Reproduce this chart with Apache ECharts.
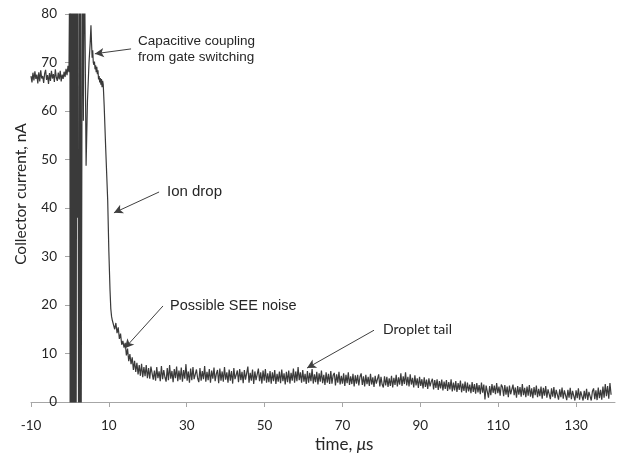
<!DOCTYPE html>
<html>
<head>
<meta charset="utf-8">
<script src="https://cdn.jsdelivr.net/npm/echarts@6/dist/echarts.min.js"></script>
<style>
html,body{margin:0;padding:0;background:#fff;}
#chart{width:623px;height:455px;}
</style>
</head>
<body>
<div id="chart"></div>
<script>
// x tick labels and y range
const xTicks = [-10, 10, 30, 50, 70, 90, 110, 130];
const yTicks = [0, 10, 20, 30, 40, 50, 60, 70, 80];

// pre-trigger baseline, t from -10 step 0.25 us (nA)
const preT0 = -10, preDt = 0.25;
const preI = [67.2,65.9,67.9,66.3,68.2,66.6,67.5,65.7,68.0,66.1,68.4,66.7,67.2,65.8,67.7,68.5,66.4,67.4,65.6,67.8,
              66.2,68.3,66.7,67.6,66.0,68.6,66.9,66.2,67.9,66.5,68.3,66.1,67.5,66.6,68.1,67.0,68.7,67.4,69.3,68.0];

// gate switching ringing, coupling peak and ion drop (time us, current nA)
const earlyT = [0,0.05,0.1,0.15,0.2,0.25,0.3,0.35,0.4,0.45,0.5,0.55,0.6,0.65,0.7,0.75,0.8,0.85,0.9,0.95,
                1.0,1.05,1.1,1.15,1.2,1.25,1.3,1.35,1.4,1.45,1.5,1.55,1.6,
                1.75,1.9,2.05,2.2,2.25,2.3,2.35,2.4,2.45,2.5,2.55,2.6,2.65,2.7,2.75,2.8,2.85,2.9,
                3.2,3.45,3.7,4.15,4.5,4.9,5.2,5.4,5.55,5.7,5.85,6.0,6.15,6.3,6.45,6.6,6.75,6.9,7.05,
                7.2,7.35,7.5,7.65,7.8,7.95,8.1,8.25,8.4,8.55,8.8,9.2,9.7,10.0,10.3,10.5,10.7,10.9];
const earlyI = [95,-3,96,-2,94,-4,97,-3,95,-2,96,-3,94,-4,95,-2,97,-3,96,-2,
                95,-3,94,-4,96,-2,95,-3,97,-2,94,-3,-1,
                92,38,94,-2,32,-1,28,-2,92,-1,30,-2,35,-1,90,-2,31,-1,
                95,58,95,48.7,62,70,74,77.7,74,71,72.5,70,69.5,70.2,68.6,69.4,68.0,69.1,67.6,
                68.4,66.5,67.2,65.9,66.8,65.4,66.6,64.9,66.2,65.5,61,52,41.6,31,23,19.2,17.6,16.8];

// decay tail, t from 11.2 step 0.3 us (nA)
const tailT0 = 11.2, tailDt = 0.3;
const tail1 = [16.6,15.0,16.3,14.2,15.4,13.0,14.1,11.8,12.6,11.2,12.2,9.6,11.0,8.4,9.9,7.8,9.2,6.6,8.5,6.2,
               8.1,5.7,7.6,5.4,7.9,5.1,7.2,5.3,7.6,4.9,7.0,4.8,7.3];
const tail2 = [6.9,4.6,6.5,4.4,7.2,4.9,6.3,4.3,7.4,4.7,6.6,5.1,4.2,7.0,4.5,7.6,4.8,6.4,4.1,6.8,
               4.9,7.3,4.3,6.5,4.6,7.1,4.2,6.6,4.8,7.8,4.4,6.3,4.0,6.9,4.5,7.2,4.7,4.3,6.7,4.9,
               4.1,7.0,4.4,6.4,4.7,7.4,4.2,6.2,4.5,6.8,4.0,6.5,4.8,7.1,4.3,5.8,6.6,3.9,6.9,4.4,
               6.3,4.2,7.2,4.6,6.1,4.0,6.7,4.4,6.4,3.8,7.0,4.7,4.3,6.5,4.1,6.8,4.5,6.2,3.9,6.6,
               4.6,4.2,7.3,4.0,6.0,4.4,6.7,3.7,6.3,4.5,4.1,6.9,4.3,6.1,3.8,6.5,4.4,6.8,4.0,5.9];
const tail3 = [4.1,6.4,3.8,6.1,4.3,6.6,3.7,5.8,4.2,6.3,3.9,6.7,4.3,5.9,3.6,6.2,4.1,6.5,3.8,6.0,
               4.4,6.9,4.0,6.3,4.3,7.2,4.5,6.1,4.0,6.6,4.2,5.8,3.7,6.4,4.0,6.0,4.3,6.8,3.8,5.7,
               4.1,6.2,3.6,5.9,4.2,6.5,3.9,5.6,3.5,6.1,4.0,5.8,3.7,6.4,3.8,5.5,6.0,3.4,5.7,4.0,
               6.2,3.6,5.4,3.8,5.9,3.3,5.6,3.9,6.1,3.5,5.3,3.7,5.8,3.2,5.5,3.8,5.6,3.4,5.2,5.9,
               3.5,5.3,3.2,5.6,3.7,5.2,3.3,5.8,3.6,5.1,3.1,5.4,3.8,3.4,5.7,3.2,5.2,3.6,3.0,5.3];
const tail4 = [3.4,5.2,3.1,4.9,3.3,5.4,3.0,5.0,3.5,5.6,3.2,5.1,3.6,5.9,3.3,5.3,3.7,6.1,3.4,5.2,
               3.2,5.7,3.6,5.0,3.0,5.5,3.4,4.9,2.9,5.2,3.3,4.7,2.8,5.1,3.1,4.6,2.7,4.9,3.2,4.2,
               4.8,2.6,4.5,2.9,4.7,2.5,4.3,2.8,4.6,2.4,4.2,2.7,4.5,2.3,4.1,2.6,4.7,2.2,4.0,2.4,
               4.3,2.1,3.9,2.5,4.4,2.0,3.8,2.3,4.2,1.9,4.0,2.2,3.6,1.8,4.1,2.1,3.7,1.7,3.9,2.0,
               3.5,1.6,4.0,1.9,3.6,0.5,3.4,3.8,0.9,3.3,1.4,3.7,1.9,3.4,1.6,3.9,1.8,3.2,1.3,3.6];
const tail5 = [3.1,1.2,3.5,1.5,3.2,1.0,3.4,1.6,1.3,3.6,1.4,3.0,0.9,3.3,1.5,3.1,1.1,3.7,1.4,2.9,
               1.0,3.2,1.3,3.5,1.1,2.8,0.8,3.1,1.4,3.4,1.0,2.7,1.2,3.2,0.7,2.9,1.3,3.3,0.9,2.6,
               3.0,0.6,2.8,1.1,3.1,0.8,2.5,2.9,0.5,2.6,1.0,3.0,0.7,2.4,2.8,0.4,2.5,0.9,2.9,0.6,
               2.3,2.7,0.3,2.4,0.8,2.8,0.5,2.2,2.6,0.3,2.3,0.7,2.7,0.4,2.1,2.5,0.3,2.2,2.8,0.6,
               2.4,0.4,3.0,0.8,2.5,0.5,3.2,0.9,3.7,1.2,3.3,0.7,3.9,1.5];

// annotation arrows (data coordinates: start -> head)
const arrows = [
  [[15.7, 72.8], [6.4, 71.8]],
  [[22.9, 43.3], [11.3, 39.0]],
  [[23.9, 19.8], [14.1, 11.1]],
  [[78.1, 14.8], [60.9, 7.0]]
];

const points = [];
preI.forEach((v, i) => points.push([preT0 + i * preDt, v]));
earlyT.forEach((t, i) => points.push([t, earlyI[i]]));
const tail = tail1.concat(tail2, tail3, tail4, tail5);
tail.forEach((v, i) => points.push([+(tailT0 + i * tailDt).toFixed(2), v]));

const chart = echarts.init(document.getElementById('chart'), null, {renderer: 'canvas'});
const axisGray = '#a6a6a6';
const txt = '#262626';
chart.setOption({
  animation: false,
  backgroundColor: '#ffffff',
  grid: {left: 31, right: 8, top: 14, bottom: 53},
  xAxis: {
    type: 'value', min: -10, max: 140, interval: 20,
    axisLine: {lineStyle: {color: axisGray, width: 1}},
    axisTick: {show: true, length: 5, lineStyle: {color: axisGray}, customValues: xTicks},
    axisLabel: {customValues: xTicks, margin: 17, color: txt, fontFamily: 'Lato', fontSize: 13.5},
    splitLine: {show: false}
  },
  yAxis: {
    type: 'value', min: 0, max: 80, interval: 10,
    offset: -39,
    axisLine: {show: true, onZero: false, lineStyle: {color: axisGray, width: 1}},
    axisTick: {show: true, length: 5, lineStyle: {color: axisGray}, customValues: yTicks},
    axisLabel: {customValues: yTicks, margin: 13, color: txt, fontFamily: 'Lato', fontSize: 13.5},
    splitLine: {show: false}
  },
  series: [{
    type: 'line',
    data: points,
    showSymbol: false,
    symbol: 'none',
    sampling: null,
    clip: true,
    lineStyle: {color: '#3a3a3a', width: 1.2},
    markLine: {
      silent: true,
      symbol: ['none', 'arrow'],
      symbolSize: [7, 9],
      label: {show: false},
      lineStyle: {color: '#404040', width: 1, type: 'solid'},
      data: arrows.map(a => [{coord: a[0]}, {coord: a[1]}])
    }
  }],
  graphic: [
    {type: 'text', left: 138, top: 33, style: {text: 'Capacitive coupling\nfrom gate switching', fill: txt, font: '13.5px "Liberation Sans"', lineHeight: 16}},
    {type: 'text', left: 167, top: 184, style: {text: 'Ion drop', fill: txt, font: '15px "Liberation Sans"'}},
    {type: 'text', left: 170, top: 298, style: {text: 'Possible SEE noise', fill: txt, font: '14.5px "Liberation Sans"'}},
    {type: 'text', left: 383, top: 322, style: {text: 'Droplet tail', fill: txt, font: '14px Lato'}},
    {type: 'text', left: 315, top: 436, style: {
      text: '{a|time, }{b|μ}{a|s}',
      rich: {a: {fontFamily: 'Lato', fontSize: 17, fill: txt, color: txt}, b: {fontFamily: 'Lato', fontStyle: 'italic', fontSize: 17, fill: txt, color: txt}}
    }},
    {type: 'text', x: 21, y: 194, rotation: Math.PI / 2, style: {text: 'Collector current, nA', fill: txt, font: '15.5px Lato', align: 'center', verticalAlign: 'middle'}}
  ]
});
</script>
</body>
</html>
